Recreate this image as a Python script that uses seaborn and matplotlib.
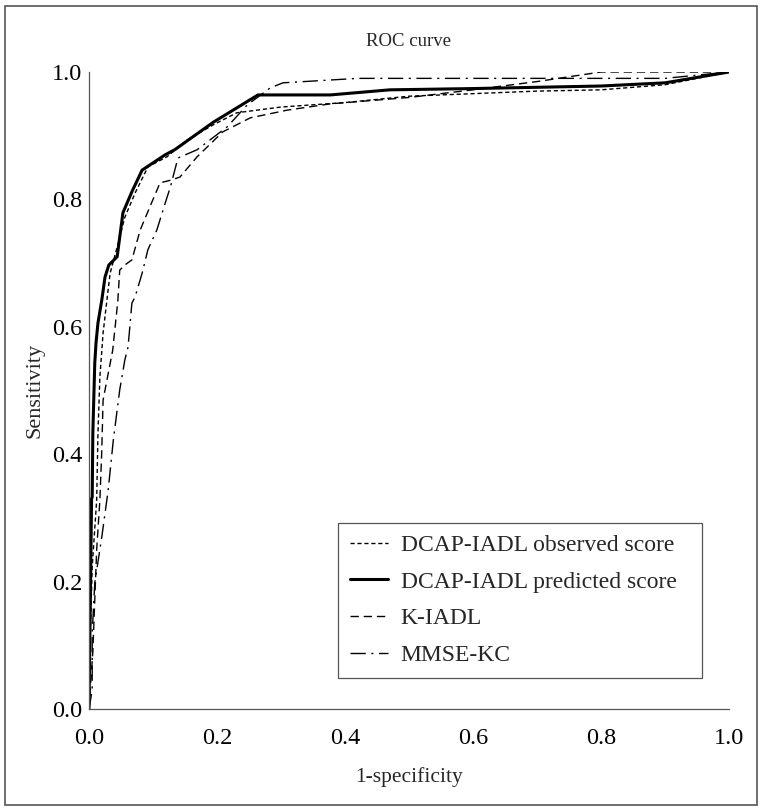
import numpy as np
import pandas as pd
import matplotlib
matplotlib.use("Agg")
import matplotlib.pyplot as plt
import seaborn as sns
from matplotlib.patches import Rectangle

sns.set_theme(style="white")
plt.rcParams['font.family'] = ['Liberation Serif', 'DejaVu Serif']

# ---- data ----
obs_x = [0.0, 0.002, 0.005, 0.012, 0.014, 0.017, 0.022, 0.028, 0.033, 0.044, 0.056, 0.072,
         0.092, 0.122, 0.153, 0.194, 0.231, 0.30, 0.40, 0.50, 0.60, 0.70, 0.80, 0.90, 0.95, 1.0]
obs_y = [0.0, 0.119, 0.223, 0.328, 0.433, 0.521, 0.590, 0.642, 0.684, 0.725, 0.772, 0.810,
         0.851, 0.867, 0.893, 0.917, 0.936, 0.945, 0.952, 0.962, 0.966, 0.970, 0.972, 0.980, 0.990, 1.0]

pred_x = [0.0, 0.004, 0.005, 0.006, 0.009, 0.011, 0.014, 0.020, 0.025, 0.031, 0.044, 0.053,
          0.067, 0.083, 0.119, 0.134, 0.194, 0.264, 0.377, 0.47, 0.60, 0.80, 0.90, 1.0]
pred_y = [0.0, 0.330, 0.333, 0.433, 0.543, 0.575, 0.606, 0.642, 0.678, 0.697, 0.710, 0.779,
          0.812, 0.846, 0.870, 0.878, 0.921, 0.964, 0.964, 0.972, 0.974, 0.978, 0.983, 1.0]

kiadl_x = [0.0, 0.006, 0.009, 0.012, 0.017, 0.020, 0.022, 0.037, 0.045, 0.048, 0.056, 0.067,
           0.080, 0.095, 0.111, 0.127, 0.142, 0.169, 0.209, 0.252, 0.309, 0.377, 0.50, 0.60,
           0.70, 0.80, 1.0]
kiadl_y = [0.0, 0.090, 0.171, 0.250, 0.328, 0.407, 0.485, 0.563, 0.640, 0.689, 0.697, 0.705,
           0.752, 0.788, 0.826, 0.830, 0.835, 0.867, 0.906, 0.928, 0.940, 0.950, 0.960, 0.972,
           0.985, 1.0, 1.0]

mmse_x = [0.0, 0.005, 0.005, 0.009, 0.020, 0.030, 0.038, 0.048, 0.056, 0.061, 0.067, 0.072,
          0.083, 0.092, 0.106, 0.119, 0.127, 0.139, 0.169, 0.216, 0.247, 0.283, 0.303, 0.42,
          0.90, 1.0]
mmse_y = [0.0, 0.030, 0.119, 0.198, 0.270, 0.344, 0.422, 0.501, 0.548, 0.568, 0.637, 0.647,
          0.684, 0.721, 0.752, 0.794, 0.819, 0.865, 0.878, 0.914, 0.948, 0.975, 0.983, 0.990,
          0.990, 1.0]

labels = ["DCAP-IADL observed score", "DCAP-IADL predicted score", "K-IADL", "MMSE-KC"]
xticks = [0.0, 0.2, 0.4, 0.6, 0.8, 1.0]
yticks = [0.0, 0.2, 0.4, 0.6, 0.8, 1.0]

series = [(obs_x, obs_y), (pred_x, pred_y), (kiadl_x, kiadl_y), (mmse_x, mmse_y)]
styles = [dict(lw=1.0, dashes=(3, 2)),
          dict(lw=2.2, dashes=None),
          dict(lw=1.0, dashes=(6, 3.5)),
          dict(lw=1.0, dashes=(11, 4, 1.5, 4))]

fig = plt.figure(figsize=(7.66, 8.10), dpi=100)
ax = fig.add_axes([89/766, 1-709/810, 640/766, 637/810])

for (xs, ys), lab, st in zip(series, labels, styles):
    df = pd.DataFrame({"x": xs, "y": ys})
    sns.lineplot(data=df, x="x", y="y", ax=ax, color="black", linewidth=st["lw"],
                 label=lab, sort=False, estimator=None)
    line = ax.lines[-1]
    if st["dashes"] is not None:
        line.set_dashes(st["dashes"])
    line.set_solid_joinstyle("round")

ax.set_xlim(0, 1.0)
ax.set_ylim(0, 1.0)
ax.set_xticks(xticks)
ax.set_yticks(yticks)
ax.set_xticklabels([f"{t:.1f}" for t in xticks])
ax.set_yticklabels([f"{t:.1f}" for t in yticks])
ax.tick_params(direction="in", length=7, width=0.9, color="#555555",
               labelsize=17.5, labelcolor="black")
ax.tick_params(axis="x", pad=14)
ax.tick_params(axis="y", pad=5)
for s in ["top", "right"]:
    ax.spines[s].set_visible(False)
for s in ["left", "bottom"]:
    ax.spines[s].set_color("#555555")
    ax.spines[s].set_linewidth(0.9)

ax.set_title("ROC curve", fontsize=13.5, pad=19)
ax.set_xlabel("1-specificity", fontsize=15.5, labelpad=13)
ax.set_ylabel("Sensitivity", fontsize=16, labelpad=5)

leg = ax.legend(loc="lower left", bbox_to_anchor=(0.389, 0.049, 0.569, 0.24), mode="expand",
                fontsize=17, frameon=True, fancybox=False, edgecolor="#555555", framealpha=1,
                handlelength=1.6, handletextpad=0.55, labelspacing=0.64,
                borderpad=0.5, borderaxespad=0)
leg.get_frame().set_linewidth(0.9)

fig.patches.append(Rectangle((5/766, 1-805/810), 752/766, 799/810, transform=fig.transFigure,
                             fill=False, edgecolor="#555555", linewidth=1.2))

fig.savefig("out.png", dpi=100)
